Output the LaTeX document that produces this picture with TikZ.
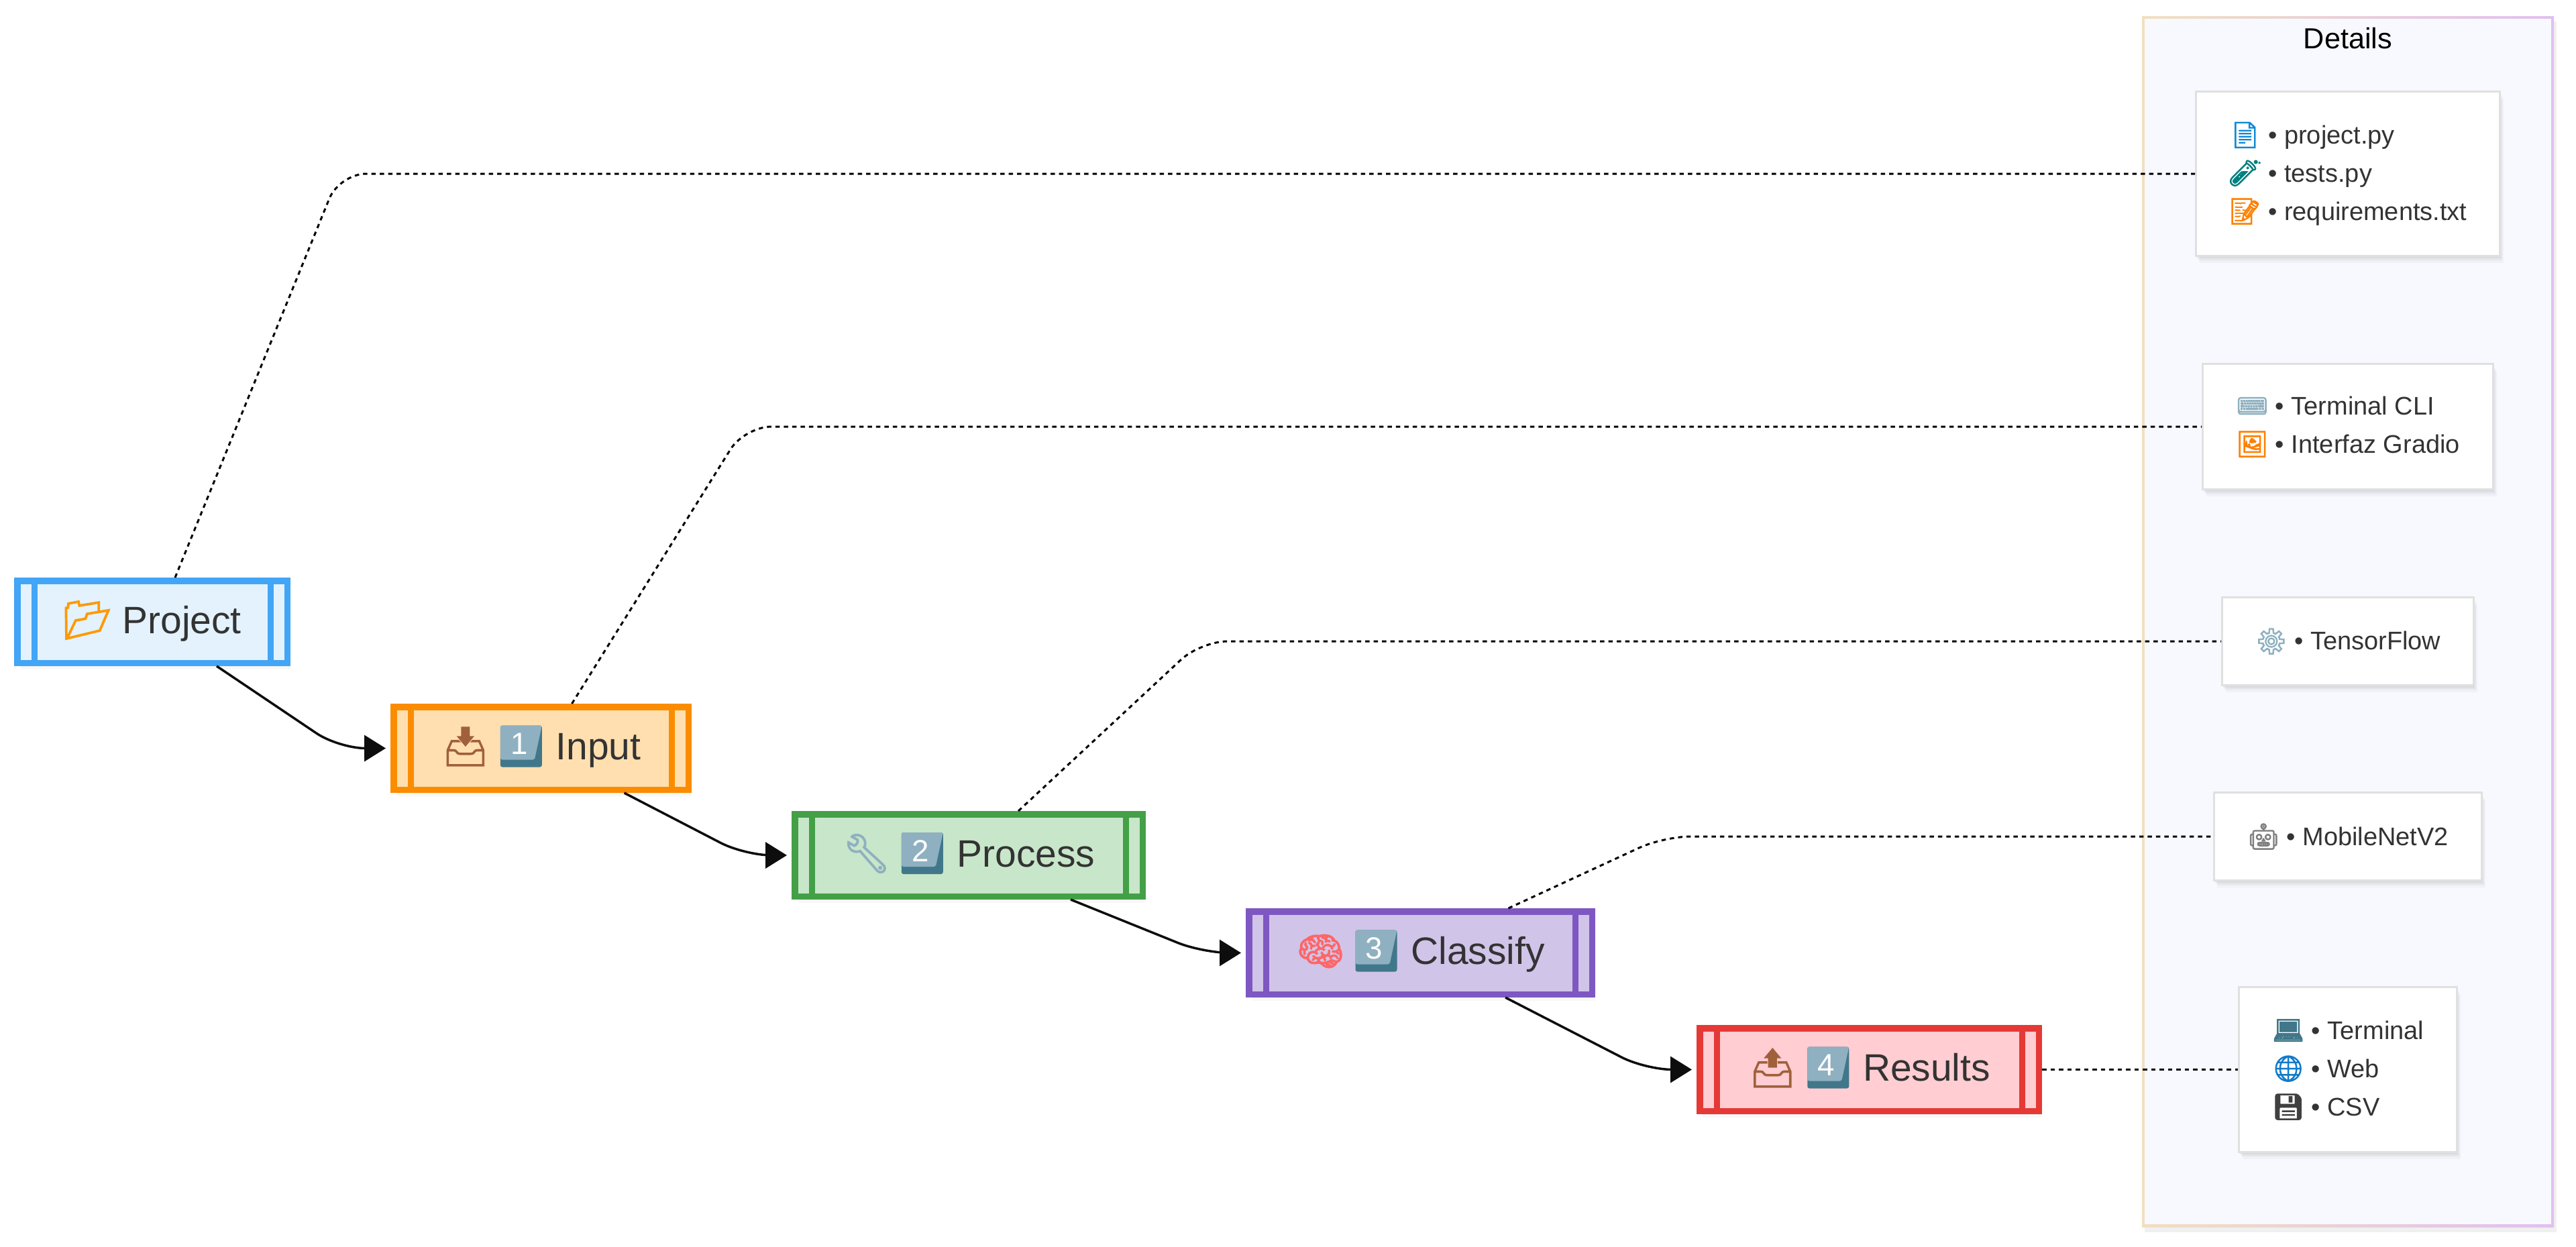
\documentclass[tikz,border=0pt]{standalone}
\usepackage{fontspec}
\setmainfont{Liberation Sans}
\newfontfamily\emojifont[FakeBold=2.6]{Noto Emoji}
\usetikzlibrary{arrows.meta}
\usetikzlibrary{calc}
\usetikzlibrary{shadows}

\definecolor{projline}{HTML}{42A5F5}
\definecolor{projfill}{HTML}{E3F2FD}
\definecolor{inputline}{HTML}{FB8C00}
\definecolor{inputfill}{HTML}{FFDFB0}
\definecolor{procline}{HTML}{43A047}
\definecolor{procfill}{HTML}{C8E6C9}
\definecolor{classline}{HTML}{7E57C2}
\definecolor{classfill}{HTML}{D1C4E9}
\definecolor{resline}{HTML}{E53935}
\definecolor{resfill}{HTML}{FFCDD2}
\definecolor{inktext}{HTML}{333333}
\definecolor{panelfill}{HTML}{F8F9FF}
\definecolor{panelleft}{HTML}{F0E0C0}
\definecolor{panelright}{HTML}{E0C0F0}
\definecolor{keylight}{HTML}{8FB0C0}
\definecolor{keydark}{HTML}{41778A}
\definecolor{trayline}{HTML}{A0603A}

\newcommand{\emo}[2]{{\color{#1}\emojifont #2}}
\newcommand{\keycap}[1]{\tikz[baseline=-.2cm]{
    \fill[keydark, rounded corners=.03cm] (-.31,-.31) rectangle (.31,.31);
    \fill[keylight, rounded corners=.03cm] (-.31,-.2) -- (.2,-.2) -- (.31,.31) -- (-.31,.31) -- cycle;
    \node[text=white, inner sep=0pt, minimum width=0pt, minimum height=0pt, text height=0pt, text depth=0pt, font=\fontsize{13}{13}\selectfont] at (-.03,-.12) {#1};}\kern.05cm\relax}

\tikzset{
  softshadow/.style={
    drop shadow={shadow xshift=.05cm, shadow yshift=-.10cm, opacity=.06},
    drop shadow={shadow xshift=.03cm, shadow yshift=-.06cm, opacity=.09},
    drop shadow={shadow xshift=.01cm, shadow yshift=-.03cm, opacity=.11}},
  stepbox/.style 2 args={rectangle, draw=#1, fill=#2, line width=.095cm, inner sep=0pt,
    text=inktext, text height=.6cm, text depth=.26cm, font=\fontsize{16.2}{19}\selectfont, softshadow,
    path picture={
      \draw[#1, line width=.09cm] ([xshift=.2525cm]path picture bounding box.north west) -- ([xshift=.2525cm]path picture bounding box.south west);
      \draw[#1, line width=.09cm] ([xshift=-.2525cm]path picture bounding box.north east) -- ([xshift=-.2525cm]path picture bounding box.south east);}},
  notebox/.style={rectangle, draw=black!12, fill=white, line width=.03cm, inner sep=0pt,
    text=inktext, align=left, font=\fontsize{10.8}{16.2}\selectfont, softshadow},
  flow/.style={draw=black!95, line width=.035cm, rounded corners=.4cm, shorten >=.07cm, -{Triangle[length=.32cm, width=.39cm]}},
  link/.style={draw=black, line width=.03cm, dash pattern=on .065cm off .06cm, rounded corners=.4cm},
}

\begin{document}
\begin{tikzpicture}
  \useasboundingbox (0,0) rectangle (38.40,-18.58);

  % details panel
  \shade[left color=panelleft, right color=panelright, drop shadow={shadow xshift=.04cm, shadow yshift=-.08cm, opacity=.12}]
    (31.93,-.24) rectangle (38.07,-18.29);
  \fill[panelfill] (31.97,-.28) rectangle (38.03,-18.25);
  \node[text=black, font=\fontsize{12.3}{15}\selectfont] (title) at (35.00,-.57) {Details};

  % steps
  \node[stepbox={projline}{projfill}, minimum width=4.025cm, minimum height=1.225cm] (proj) at (2.27,-9.27) {\emo{orange!80!yellow}{📂} Project};
  \node[stepbox={inputline}{inputfill}, minimum width=4.395cm, minimum height=1.235cm] (input) at (8.065,-11.155) {\emo{trayline}{📥} \keycap{1} Input};
  \node[stepbox={procline}{procfill}, minimum width=5.185cm, minimum height=1.225cm] (process) at (14.44,-12.75) {\emo{keylight}{🔧} \keycap{2} Process};
  \node[stepbox={classline}{classfill}, minimum width=5.115cm, minimum height=1.235cm] (classify) at (21.175,-14.205) {\emo{red!60!white}{🧠} \keycap{3} Classify};
  \node[stepbox={resline}{resfill}, minimum width=5.055cm, minimum height=1.235cm] (results) at (27.865,-15.945) {\emo{trayline}{📤} \keycap{4} Results};

  % detail boxes
  \node[notebox, minimum width=4.53cm, minimum height=2.45cm] (files) at (35.00,-2.59) {\emo{cyan!70!blue}{📄} • project.py\\\emo{teal}{🧪} • tests.py\\\emo{orange}{📝} • requirements.txt};
  \node[notebox, minimum width=4.33cm, minimum height=1.87cm] (inputs) at (35.00,-6.36) {\emo{keylight}{⌨} • Terminal CLI\\\emo{orange}{🖼} • Interfaz Gradio};
  \node[notebox, minimum width=3.75cm, minimum height=1.31cm] (tools) at (35.00,-9.56) {\emo{keylight}{⚙} • TensorFlow};
  \node[notebox, minimum width=3.99cm, minimum height=1.31cm] (model) at (35.00,-12.47) {\emo{gray}{🤖} • MobileNetV2};
  \node[notebox, minimum width=3.25cm, minimum height=2.46cm] (outs) at (35.00,-15.945) {\emo{keydark}{💻} • Terminal\\\emo{cyan!60!blue}{🌐} • Web\\\emo{darkgray}{💾} • CSV};

  % flow
  \draw[flow] ([xshift=.96cm]proj.south) -- (5.05,-11.155) -- (input.west);
  \draw[flow] ([xshift=1.24cm]input.south) -- (11.10,-12.75) -- (process.west);
  \draw[flow] ([xshift=1.52cm]process.south) -- (17.93,-14.205) -- (classify.west);
  \draw[flow] ([xshift=1.265cm]classify.south) -- (24.53,-15.945) -- (results.west);

  % links
  \draw[link] ([xshift=.34cm]proj.north) -- (5.06,-2.59) -- (files.west);
  \draw[link] ([xshift=.46cm]input.north) -- (11.10,-6.36) -- (inputs.west);
  \draw[link] ([xshift=.74cm]process.north) -- (17.90,-9.56) -- (tools.west);
  \draw[link] ([xshift=1.31cm]classify.north) -- (24.80,-12.47) -- (model.west);
  \draw[link] (results.east) -- (outs.west);
\end{tikzpicture}
\end{document}
